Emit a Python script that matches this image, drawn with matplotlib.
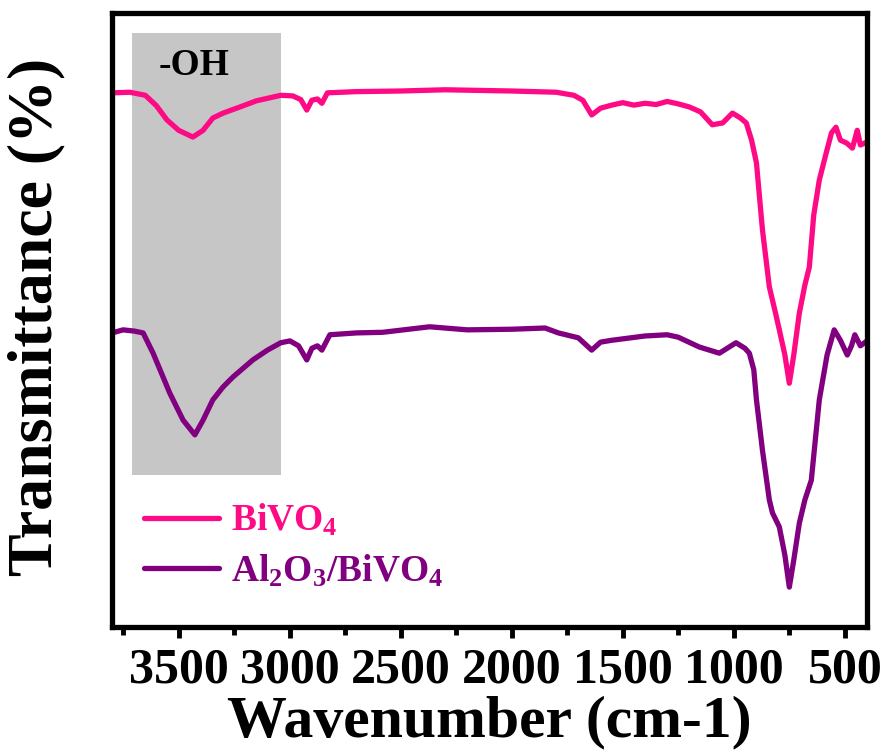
import matplotlib
matplotlib.use("Agg")
import matplotlib.pyplot as plt
from matplotlib.ticker import MultipleLocator

plt.rcParams["font.family"] = ["Liberation Serif", "DejaVu Serif"]
plt.rcParams["font.weight"] = "bold"
plt.rcParams["mathtext.fontset"] = "custom"
plt.rcParams["mathtext.rm"] = "Liberation Serif:bold"
plt.rcParams["mathtext.it"] = "Liberation Serif:bold"
plt.rcParams["mathtext.bf"] = "Liberation Serif:bold"

# FTIR spectra, wavenumber (cm-1) vs transmittance (a.u.)
wn_bivo4 = [3800, 3720, 3650, 3600, 3553, 3500, 3436, 3390, 3346, 3300, 3224, 3150,
            3040, 2986, 2950, 2923, 2900, 2875, 2855, 2830, 2700, 2500, 2300, 2000,
            1800, 1720, 1680, 1640, 1600, 1550, 1500, 1450, 1400, 1350, 1300, 1250,
            1200, 1150, 1097, 1050, 1006, 970, 944, 920, 898, 871, 840, 810, 795,
            770, 750, 730, 705, 680, 660, 640, 615, 584, 560, 540, 520, 491, 466,
            450, 444, 430, 400]
t_bivo4 = [87.0, 87.1, 86.6, 84.9, 82.6, 80.9, 79.8, 80.9, 82.9, 83.7, 84.7, 85.7,
           86.6, 86.5, 85.9, 84.2, 85.8, 86.0, 85.3, 87.0, 87.2, 87.3, 87.5, 87.3,
           87.1, 86.6, 85.8, 83.4, 84.5, 85.0, 85.4, 85.0, 85.3, 85.1, 85.6, 85.2,
           84.7, 83.9, 81.8, 82.1, 83.7, 82.9, 82.1, 79.3, 75.6, 64.7, 55.4, 50.8,
           48.4, 44.3, 39.7, 44.3, 51.1, 55.7, 58.6, 67.1, 72.8, 77.2, 80.5, 81.4,
           79.3, 78.8, 78.0, 80.1, 80.9, 78.5, 79.0]

wn_al2o3 = [3800, 3750, 3700, 3660, 3615, 3540, 3480, 3427, 3390, 3346, 3300, 3256,
            3166, 3100, 3040, 2999, 2960, 2923, 2900, 2875, 2855, 2819, 2700, 2581,
            2370, 2200, 2000, 1850, 1790, 1700, 1640, 1600, 1550, 1400, 1300, 1250,
            1155, 1065, 990, 950, 930, 910, 898, 871, 840, 826, 795, 770, 750, 730,
            705, 680, 651, 615, 580, 548, 520, 489, 470, 455, 430, 400]
t_al2o3 = [47.9, 48.4, 48.2, 47.9, 44.6, 38.1, 33.7, 31.3, 33.7, 37.0, 39.1, 40.7,
           43.5, 45.1, 46.3, 46.6, 45.8, 43.5, 45.4, 45.8, 45.1, 47.6, 47.9, 48.0,
           48.9, 48.4, 48.5, 48.7, 47.9, 47.1, 45.1, 46.4, 46.7, 47.4, 47.6, 47.2,
           45.6, 44.6, 46.3, 45.4, 44.6, 41.9, 37.0, 28.8, 20.7, 18.6, 16.3, 11.7,
           6.5, 10.9, 16.9, 20.7, 23.9, 37.0, 44.3, 48.4, 46.7, 44.3, 45.8, 47.6,
           45.8, 46.6]

oh_band = (3710, 3040)
oh_band_t = (24.8, 96.7)

fig = plt.figure(figsize=(8.87, 7.53), dpi=100)
ax = fig.add_axes([0.1263, 0.1673, 0.8512, 0.8154])

ax.fill_between(oh_band, oh_band_t[0], oh_band_t[1], color="#c6c6c6", lw=0, zorder=0)
ax.text(3432, 91.5, "-OH", fontsize=27, fontweight="bold", ha="center", va="center")

ax.plot(wn_bivo4, t_bivo4, color="#ff0a85", lw=3.8, label=r"BiVO$_4$",
        solid_joinstyle="round", solid_capstyle="round")
ax.plot(wn_al2o3, t_al2o3, color="#800080", lw=3.8, label=r"Al$_2$O$_3$/BiVO$_4$",
        solid_joinstyle="round", solid_capstyle="round")

ax.set_xlim(3800, 400)
ax.set_ylim(0, 100)
ax.xaxis.set_major_locator(MultipleLocator(500))
ax.xaxis.set_minor_locator(MultipleLocator(250))
ax.set_yticks([])
ax.tick_params(axis="x", which="major", direction="out", length=8, width=3.5,
               labelsize=36, pad=7)
ax.tick_params(axis="x", which="minor", direction="out", length=6, width=3.5)
for lab in ax.get_xticklabels():
    lab.set_fontweight("bold")
for sp in ax.spines.values():
    sp.set_linewidth(3.8)

ax.set_xlabel("Wavenumber (cm-1)", fontsize=43, fontweight="bold")
ax.xaxis.set_label_coords(0.5, -0.112)
ax.set_ylabel("Transmittance (%)", fontsize=46, fontweight="bold")
ax.yaxis.set_label_coords(-0.062, 0.505)

leg = ax.legend(loc="upper left", bbox_to_anchor=(0.043, 0.203), frameon=False,
                fontsize=27, handlelength=2.0, handletextpad=0.3,
                labelspacing=0.38, borderaxespad=0, borderpad=0,
                labelcolor="linecolor")
for t in leg.get_texts():
    t.set_fontweight("bold")

fig.savefig("out.png", dpi=100)
